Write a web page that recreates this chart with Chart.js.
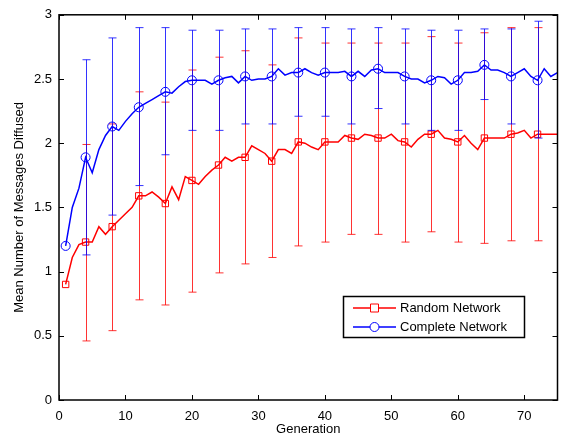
<!DOCTYPE html>
<html>
<head>
<meta charset="utf-8">
<script src="https://cdn.jsdelivr.net/npm/chart.js@4.4.0/dist/chart.umd.min.js"></script>
<style>
  html, body { margin: 0; padding: 0; background: #fff; }
  canvas { display: block; }
</style>
</head>
<body>
<canvas id="grafico" width="563" height="440"></canvas>
<script>
// generaciones (eje x)
var gens = [1,2,3,4,5,6,7,8,9,10,11,12,13,14,15,16,17,18,19,20,21,22,23,24,25,
            26,27,28,29,30,31,32,33,34,35,36,37,38,39,40,41,42,43,44,45,46,47,48,49,50,
            51,52,53,54,55,56,57,58,59,60,61,62,63,64,65,66,67,68,69,70,71,72,73,74,75];

// media, red aleatoria
var randomMean = [0.90,1.11,1.21,1.23,1.23,1.35,1.29,1.35,1.40,1.45,1.50,1.59,1.59,1.62,1.58,
                  1.53,1.66,1.56,1.74,1.71,1.68,1.74,1.79,1.83,1.89,1.86,1.89,1.89,1.98,1.95,
                  1.92,1.86,1.95,1.95,1.92,2.01,2.00,1.97,1.95,2.01,2.01,2.01,2.06,2.04,2.03,
                  2.07,2.06,2.04,2.04,2.07,2.02,2.01,1.97,2.03,2.07,2.07,2.10,2.04,2.03,2.01,
                  2.06,2.00,1.95,2.04,2.04,2.04,2.04,2.07,2.08,2.10,2.04,2.07,2.07,2.07,2.07];

// media, red completa
var completeMean = [1.20,1.50,1.65,1.89,1.77,1.95,2.06,2.13,2.10,2.17,2.23,2.28,2.31,2.34,2.37,
                    2.40,2.39,2.44,2.48,2.49,2.49,2.49,2.46,2.49,2.51,2.52,2.47,2.52,2.49,2.50,
                    2.50,2.52,2.58,2.53,2.55,2.55,2.58,2.55,2.53,2.55,2.55,2.55,2.56,2.52,2.56,
                    2.52,2.57,2.58,2.55,2.55,2.55,2.52,2.50,2.50,2.47,2.49,2.52,2.51,2.46,2.49,
                    2.55,2.55,2.56,2.61,2.57,2.57,2.55,2.52,2.55,2.58,2.52,2.49,2.58,2.52,2.55];

// generaciones con marcador
var markerGens = [1,4,8,12,16,20,24,28,32,36,40,44,48,52,56,60,64,68,72];

// barras de error
var errGens    = [4,8,12,16,20,24,28,32,36,40,44,48,52,56,60,64,68,72];
var randomHi   = [1.99,2.15,2.40,2.32,2.57,2.67,2.72,2.61,2.82,2.78,2.78,2.78,2.78,2.83,2.78,2.86,2.90,2.90];
var randomLo   = [0.46,0.54,0.78,0.74,0.84,0.99,1.06,1.11,1.20,1.23,1.29,1.29,1.23,1.31,1.23,1.22,1.24,1.24];
var completeHi = [2.65,2.82,2.90,2.90,2.88,2.88,2.89,2.89,2.90,2.90,2.89,2.90,2.89,2.88,2.88,2.89,2.89,2.95];
var completeLo = [1.13,1.44,1.67,1.91,2.10,2.10,2.15,2.15,2.21,2.21,2.15,2.27,2.15,2.10,2.10,2.34,2.15,2.04];

var xTicks = [0,10,20,30,40,50,60,70];
var yTicks = [0,0.5,1,1.5,2,2.5,3];

var seriesNames = ['Random Network', 'Complete Network'];

var FUENTE = '"Liberation Sans", Arial, Helvetica, sans-serif';
var ROJO = '#ff0000';
var AZUL = '#0000ff';

function toPoints(vals) {
    return gens.map(function (g, i) { return { x: g, y: vals[i] }; });
}
function markerRadius(ctx) {
    return markerGens.indexOf(gens[ctx.dataIndex]) >= 0 ? 4.5 : 0;
}

var errores = [
    { hi: randomHi, lo: randomLo, color: 'rgba(255,0,0,0.8)' },
    { hi: completeHi, lo: completeLo, color: 'rgba(0,0,255,0.8)' }
];

// barras de error, dibujadas antes de cada serie
var errorBars = {
    id: 'errorBars',
    beforeDatasetDraw: function (chart, args) {
        var e = errores[args.index];
        if (!e) return;
        var c = chart.ctx, xs = chart.scales.x, ys = chart.scales.y;
        c.save();
        c.strokeStyle = e.color;
        c.lineWidth = 1;
        errGens.forEach(function (g, i) {
            var px = Math.round(xs.getPixelForValue(g)) + 0.5;
            var top = ys.getPixelForValue(e.hi[i]);
            var bot = ys.getPixelForValue(e.lo[i]);
            c.beginPath();
            c.moveTo(px, top); c.lineTo(px, bot);
            c.moveTo(px - 4, top); c.lineTo(px + 4, top);
            c.moveTo(px - 4, bot); c.lineTo(px + 4, bot);
            c.stroke();
        });
        c.restore();
    }
};

// marco, marcas hacia dentro, titulos de ejes y leyenda
var marco = {
    id: 'marco',
    afterDraw: function (chart) {
        var c = chart.ctx, a = chart.chartArea, xs = chart.scales.x, ys = chart.scales.y;
        c.save();
        c.strokeStyle = '#000';
        c.lineWidth = 1;
        xTicks.forEach(function (v) {
            var px = Math.round(xs.getPixelForValue(v)) + 0.5;
            c.beginPath();
            c.moveTo(px, a.bottom); c.lineTo(px, a.bottom - 5);
            c.moveTo(px, a.top); c.lineTo(px, a.top + 5);
            c.stroke();
        });
        yTicks.forEach(function (v) {
            var py = Math.round(ys.getPixelForValue(v)) + 0.5;
            c.beginPath();
            c.moveTo(a.left, py); c.lineTo(a.left + 5, py);
            c.moveTo(a.right, py); c.lineTo(a.right - 5, py);
            c.stroke();
        });
        c.lineWidth = 1.5;
        c.strokeRect(a.left, a.top, a.right - a.left, a.bottom - a.top);

        // titulos
        c.fillStyle = '#000';
        c.font = '13px ' + FUENTE;
        c.textAlign = 'center';
        c.textBaseline = 'alphabetic';
        c.fillText('Generation', (a.left + a.right) / 2, 433);
        c.save();
        c.translate(23, (a.top + a.bottom) / 2);
        c.rotate(-Math.PI / 2);
        c.fillText('Mean Number of Messages Diffused', 0, 0);
        c.restore();

        // leyenda
        var lx = 343.5, ly = 296.5, lw = 181, lh = 41;
        c.fillStyle = '#fff';
        c.fillRect(lx, ly, lw, lh);
        c.lineWidth = 1.5;
        c.strokeStyle = '#000';
        c.strokeRect(lx, ly, lw, lh);
        var filas = [
            { y: 308, color: ROJO, estilo: 'rect' },
            { y: 327, color: AZUL, estilo: 'circle' }
        ];
        filas.forEach(function (f, i) {
            c.strokeStyle = f.color;
            c.lineWidth = 1.5;
            c.beginPath();
            c.moveTo(353, f.y); c.lineTo(396, f.y);
            c.stroke();
            c.lineWidth = 1;
            c.beginPath();
            if (f.estilo === 'rect') {
                c.rect(370.5, f.y - 4, 8, 8);
            } else {
                c.arc(374.5, f.y, 4.5, 0, Math.PI * 2);
            }
            c.fillStyle = '#fff';
            c.fill();
            c.stroke();
            c.fillStyle = '#000';
            c.textAlign = 'left';
            c.textBaseline = 'middle';
            c.fillText(seriesNames[i], 400, f.y + 0.5);
        });
        c.restore();
    }
};

var ctx = document.getElementById('grafico').getContext('2d');

var chart = new Chart(ctx, {
    type: 'line',
    data: {
        datasets: [{
            label: seriesNames[0],
            data: toPoints(randomMean),
            borderColor: ROJO,
            borderWidth: 1.5,
            pointStyle: 'rect',
            pointRadius: markerRadius,
            pointBorderColor: ROJO,
            pointBackgroundColor: 'rgba(0,0,0,0)',
            pointBorderWidth: 1,
            tension: 0,
            order: 2
        }, {
            label: seriesNames[1],
            data: toPoints(completeMean),
            borderColor: AZUL,
            borderWidth: 1.5,
            pointStyle: 'circle',
            pointRadius: markerRadius,
            pointBorderColor: AZUL,
            pointBackgroundColor: 'rgba(0,0,0,0)',
            pointBorderWidth: 1,
            tension: 0,
            order: 1
        }]
    },
    options: {
        responsive: false,
        devicePixelRatio: 1,
        animation: false,
        layout: { padding: { top: 11, right: 4, left: 0, bottom: 0 } },
        plugins: {
            legend: { display: false },
            tooltip: { enabled: false }
        },
        scales: {
            x: {
                type: 'linear',
                min: 0,
                max: 75,
                afterBuildTicks: function (scale) {
                    scale.ticks = xTicks.map(function (v) { return { value: v }; });
                },
                afterFit: function (scale) { scale.height = 40; },
                grid: { display: false, drawTicks: false },
                border: { display: false },
                ticks: {
                    padding: 9,
                    color: '#000',
                    font: { family: FUENTE, size: 13 },
                    maxRotation: 0,
                    callback: function (v) { return String(v); }
                }
            },
            y: {
                type: 'linear',
                min: 0,
                max: 3,
                afterBuildTicks: function (scale) {
                    scale.ticks = yTicks.map(function (v) { return { value: v }; });
                },
                afterFit: function (scale) { scale.width = 59; },
                grid: { display: false, drawTicks: false },
                border: { display: false },
                ticks: {
                    padding: 7,
                    color: '#000',
                    font: { family: FUENTE, size: 13 },
                    callback: function (v) { return String(v); }
                }
            }
        }
    },
    plugins: [errorBars, marco]
});
</script>
</body>
</html>
